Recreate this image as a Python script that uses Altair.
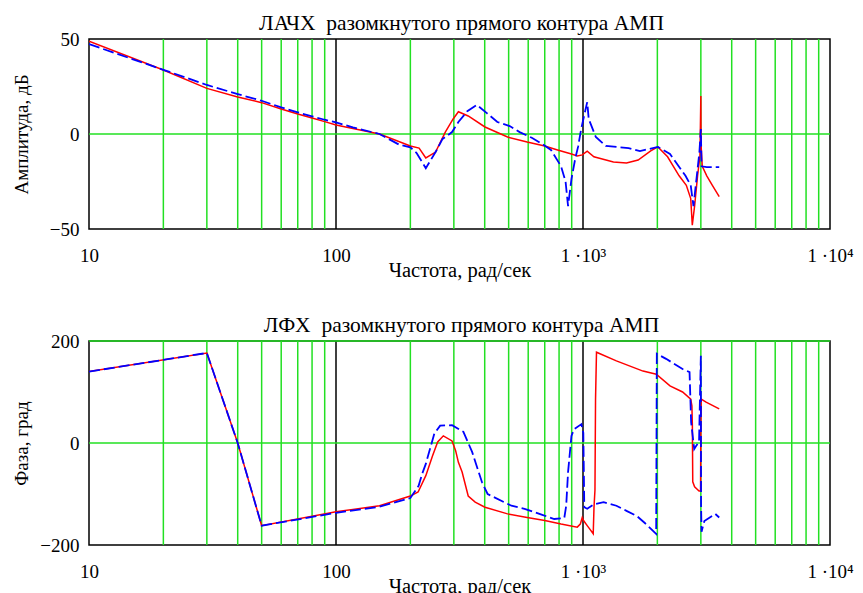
import altair as alt
import pandas as pd

FONT = "Liberation Serif"
GREEN = "#22e022"
RED = "#ff0000"
BLUE = "#0000ff"

# ---- data ----
TOP_TITLE = "ЛАЧХ\u00a0 разомкнутого прямого контура АМП"
BOT_TITLE = "ЛФХ\u00a0 разомкнутого прямого контура АМП"
X_TITLE = "Частота, рад/сек"
Y_TOP_TITLE = "Амплитуда, дБ"
Y_BOT_TITLE = "Фаза, град"

X_LABEL_VALUES = [10, 100, 1000, 10000]
MINOR_GRID = [m * d for d in (10, 100, 1000) for m in range(2, 10)]
MAJOR_GRID = [100, 1000]
Y_TOP_TICKS = [-50, 0, 50]
Y_BOT_TICKS = [-200, 0, 200]
Y_TOP_GRID = [0]
Y_BOT_GRID = [0, 200]

# top: amplitude, red (solid)
TR_F = [10, 20, 30, 40, 50, 60, 70, 80, 90, 100, 150, 200, 217, 231, 253, 277, 298, 313, 343, 401,
        495, 594, 700, 789, 898, 948, 993, 1040, 1107, 1328, 1500, 1672, 1880, 2010, 2200, 2450,
        2620, 2730, 2770, 2830, 2910, 2975, 3000, 3004, 3040, 3170, 3340, 3560]
TR_V = [48.8, 33.7, 24.0, 19.5, 16.5, 13.2, 10.5, 8.4, 6.5, 4.7, 0.0, -6.3, -7.4, -12.6, -9.5, 1.0,
        7.9, 11.7, 9.5, 3.7, -1.6, -4.2, -6.3, -8.4, -10.5, -11.6, -11.0, -9.0, -12.0, -14.7, -15.3,
        -13.7, -8.9, -6.8, -12.0, -22.0, -27.0, -34.0, -48.0, -38.0, -22.0, -11.6, 20.0, -5.0, -17.0,
        -22.0, -27.0, -33.0]
# top: amplitude, blue (dashed)
TB_F = [10, 20, 30, 40, 50, 60, 70, 80, 90, 100, 117, 150, 180, 200, 212, 231, 253, 270, 295, 313,
        340, 372, 408, 450, 505, 554, 623, 684, 742, 815, 850, 870, 898, 930, 955, 983, 1010, 1040,
        1055, 1127, 1236, 1530, 1700, 2010, 2250, 2600, 2730, 2800, 2850, 2910, 2960, 3000, 3020,
        3170, 3560]
TB_V = [47.3, 33.8, 25.8, 21.0, 17.5, 14.0, 11.4, 9.3, 7.5, 6.1, 3.5, 0.0, -5.6, -7.0, -10.0, -18.0,
        -9.5, -2.6, 1.0, 6.3, 12.0, 15.3, 11.0, 6.3, 4.2, 1.0, -2.1, -5.3, -8.4, -17.0, -25.0, -38.0,
        -23.7, -13.0, -6.8, 2.6, 9.5, 16.8, 7.9, -1.6, -6.3, -7.4, -9.0, -6.8, -10.5, -22.0, -27.0,
        -38.0, -29.0, -18.4, -9.5, 2.6, -17.0, -17.4, -17.4]
# bottom: phase, red (solid)
BR_F = [10, 30, 40, 50, 100, 150, 200, 215, 231, 246, 258, 272, 295, 305, 313, 324, 343, 366, 401,
        495, 594, 700, 815, 948, 975, 993, 1005, 1040, 1062, 1100, 1108, 1118, 1124, 1134, 1365, 1750,
        1980, 2250, 2530, 2730, 2760, 2772, 2782, 2830, 2950, 2992, 3000, 3010, 3150, 3560]
BR_V = [140, 176.5, 0, -162, -135, -123, -104, -96, -64, -25, 2, 14, 4, -15, -38, -57, -104, -116,
        -126, -139, -146, -152, -159, -165, -159, -146, -152, -162, -168, -178, -126, -92, 86, 178,
        161, 141, 135, 112, 100, 86, 73, 34, -76, -86, -94, -94, 37, 86, 80, 67]
# bottom: phase, blue (dashed)
BB_F = [10, 30, 40, 50, 100, 150, 200, 216, 223, 231, 242, 250, 264, 295, 328, 356, 390, 411, 513,
        580, 684, 765, 840, 855, 870, 898, 920, 985, 1003, 1012, 1040, 1110, 1212, 1365, 1500, 1650,
        1800, 1978, 1990, 2170, 2530, 2700, 2740, 2820, 2870, 2950, 3000, 3006, 3020, 3100, 3430, 3560]
BB_V = [140, 176.5, 0, -162, -137, -125, -108, -84, -61, -41, -6, 18, 34, 35, 22, -18, -77, -100,
        -123, -129, -141, -149, -147, -123, -57, 14, 27, 37, 20, -126, -129, -120, -116, -123, -133,
        -143, -159, -178, 175, 165, 145, 139, 41, -12, -6, 2, 171, -123, -174, -153, -139, -146]

LABEL_EXPR = ("datum.value == 10 ? '10' : datum.value == 100 ? '100' : "
              "datum.value == 1000 ? '1 \u00b710\u00b3' : "
              "datum.value == 10000 ? '1 \u00b710\u2074' : ''")

W = 741


def panel(title, ytitle, yticks, ygrid, fr, vr, fb, vb, height):
    xenc = alt.X(
        "f:Q",
        scale=alt.Scale(type="log", domain=[10, 10000], nice=False),
        axis=alt.Axis(
            values=X_LABEL_VALUES, labelExpr=LABEL_EXPR, grid=False, ticks=False, domain=False,
            labelFont=FONT, labelFontSize=19, labelColor="black", labelFlush=False,
            labelBaseline="alphabetic", labelPadding=32, labelOverlap=False,
            title=X_TITLE, titleFont=FONT, titleFontSize=20.5, titleFontWeight="normal",
            titleColor="black", titleBaseline="alphabetic", titleY=47,
        ),
    )
    yscale = alt.Scale(domain=[yticks[0], yticks[-1]], nice=False, zero=False)
    yenc = alt.Y(
        "v:Q",
        scale=yscale,
        axis=alt.Axis(
            values=yticks, labelExpr="replace(datum.label, '-', '\u2212')", grid=False,
            ticks=False, domain=False, labelFont=FONT, labelFontSize=19, labelColor="black",
            labelFlush=False, labelPadding=10,
            title=ytitle, titleFont=FONT, titleFontSize=19, titleFontWeight="normal",
            titleColor="black", titleX=-62, titleY=height / 2, titleAngle=270,
            titleBaseline="alphabetic", titleAlign="center",
        ),
    )
    minor = alt.Chart(pd.DataFrame({"f": MINOR_GRID})).mark_rule(
        color=GREEN, strokeWidth=1.5).encode(x=xenc)
    major = alt.Chart(pd.DataFrame({"f": MAJOR_GRID})).mark_rule(
        color="black", strokeWidth=1.5).encode(x=xenc)
    hgrid = alt.Chart(pd.DataFrame({"v": ygrid})).mark_rule(
        color=GREEN, strokeWidth=1.5).encode(y=yenc)
    red = alt.Chart(pd.DataFrame({"f": fr, "v": vr})).mark_line(
        color=RED, strokeWidth=1.5, clip=True).encode(x=xenc, y=yenc)
    blue = alt.Chart(pd.DataFrame({"f": fb, "v": vb})).mark_line(
        color=BLUE, strokeWidth=1.8, strokeDash=[11, 4], clip=True).encode(x=xenc, y=yenc)
    ttl = alt.Chart(pd.DataFrame({"t": [title]})).mark_text(
        font=FONT, fontSize=21.5, color="black", align="center", baseline="alphabetic"
    ).encode(x=alt.value(W / 2 + 2), y=alt.value(-9), text="t:N")
    return alt.layer(minor, major, hgrid, red, blue, ttl).properties(width=W, height=height)


top = panel(TOP_TITLE, Y_TOP_TITLE, Y_TOP_TICKS, Y_TOP_GRID, TR_F, TR_V, TB_F, TB_V, 190)
bot = panel(BOT_TITLE, Y_BOT_TITLE, Y_BOT_TICKS, Y_BOT_GRID, BR_F, BR_V, BB_F, BB_V, 204)

chart = alt.vconcat(top, bot, spacing=32).properties(
    padding={"left": 3, "top": 4, "right": 0, "bottom": 0},
    background="white",
).configure_view(stroke="black", strokeWidth=1.5)

chart.save("out.html", embed_options={"renderer": "svg", "actions": False})
